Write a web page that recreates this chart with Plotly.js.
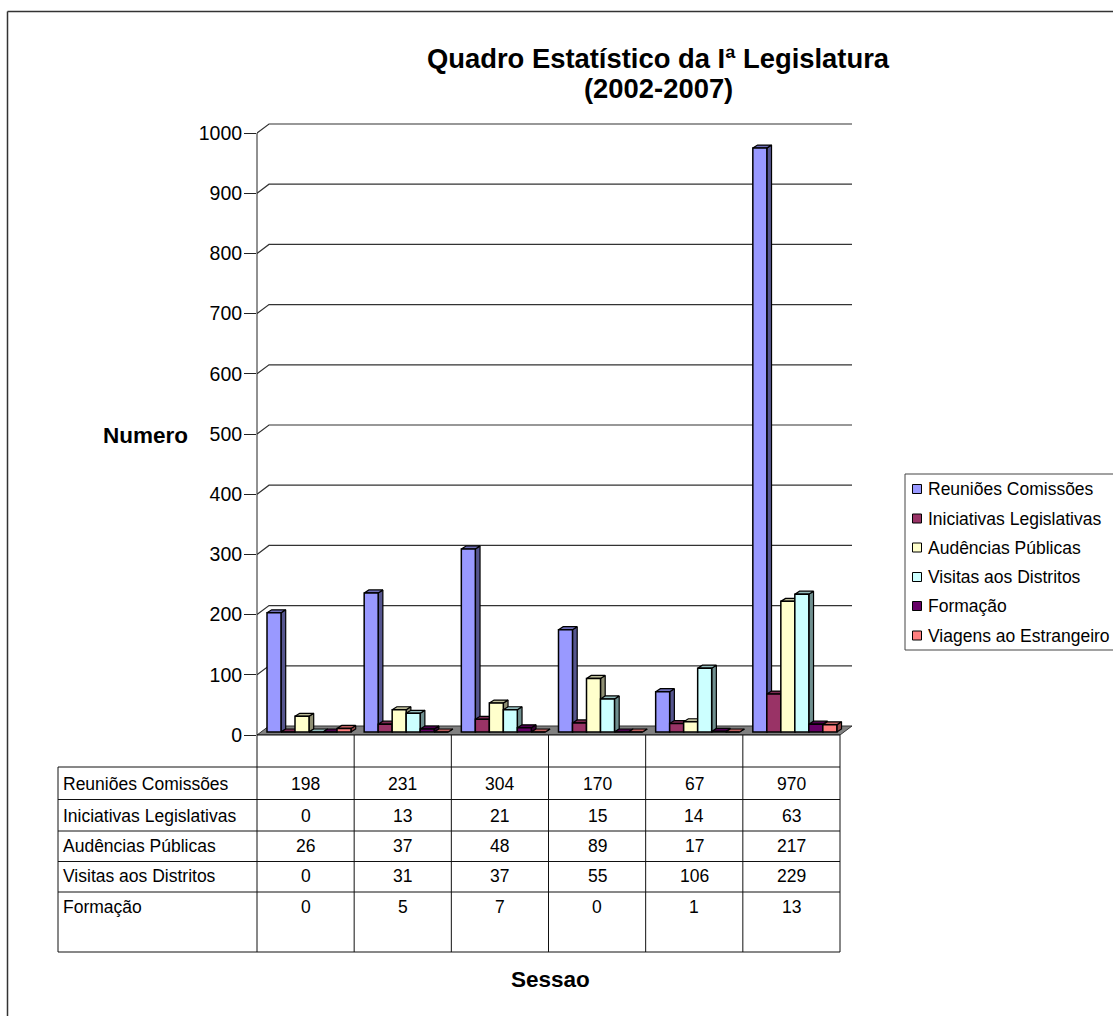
<!DOCTYPE html>
<html>
<head>
<meta charset="utf-8">
<script src="https://cdn.plot.ly/plotly-3.0.1.min.js"></script>
<style>html,body{margin:0;padding:0;background:#fff;overflow:hidden}</style>
</head>
<body>
<div id="chart" style="width:1113px;height:1016px"></div>
<script>
// ---- data ----
var titleLine1 = "Quadro Estatístico da Iª Legislatura";
var titleLine2 = "(2002-2007)";
var seriesNames = ["Reuniões Comissões","Iniciativas Legislativas","Audências Públicas","Visitas aos Distritos","Formação","Viagens ao Estrangeiro"];
var reunioes   = [198,231,304,170,67,970];
var iniciativas= [0,13,21,15,14,63];
var audiencias = [26,37,48,89,17,217];
var visitas    = [0,31,37,55,106,229];
var formacao   = [0,5,7,0,1,13];
var viagens    = [6,0,0,0,0,12];
var seriesValues = [reunioes,iniciativas,audiencias,visitas,formacao,viagens];
var frontColors = ["#9999FF","#993366","#FFFFCC","#CCFFFF","#660066","#FF8080"];
var sideColors  = ["#55558F","#5A1F3D","#8F8F73","#6F8F8F","#3A003A","#8F4848"];
var topColors   = ["#6E6EB8","#7A2950","#BDBD99","#94BDBD","#4D004D","#BD5F5F"];
var yTicks = [0,100,200,300,400,500,600,700,800,900,1000];

// ---- page geometry (pixels of the frame) ----
var W=1113,H=1016;
var L=257,R=840,B=735,T=133;
var PR=860,PT=117;                    // room kept for the depth of the walls
var px=(R-L)/6, py=(B-T)/1000;
var xMax=(PR-L)/px, yMax=(B-PT)/py;
var dxWall=12/px, dyWall=9/py;        // depth of walls
var dxBar=4.7/px, dyBar=3/py;         // depth of a bar
var barBase=3/py, barW=14/px, barLead=10/px;
function fx(p){return p/W;}
function fy(p){return 1-p/H;}

var traces=[];
// floor
traces.push({type:"scatter",mode:"lines",x:[0,6,6+dxWall,dxWall,0],y:[0,0,dyWall,dyWall,0],fill:"toself",fillcolor:"#808080",
  line:{color:"#333",width:1},hoverinfo:"skip",showlegend:false,xaxis:"x",yaxis:"y"});
// walls grid
var gx=[],gy=[];
yTicks.slice(1).forEach(function(v){gx.push(0,dxWall,6+dxWall,null);gy.push(v,v+dyWall,v+dyWall,null);});
traces.push({type:"scatter",mode:"lines",x:gx,y:gy,line:{color:"#333",width:1.2},hoverinfo:"skip",showlegend:false,xaxis:"x",yaxis:"y"});

// bar depth faces, from left to right
seriesValues.forEach(function(vals,s){
  var sx=[],sy=[],tx=[],ty=[];
  vals.forEach(function(v,g){
    var xl=g+barLead+barW*s, xr=xl+barW, top=barBase+v;
    sx.push(xr,xr+dxBar,xr+dxBar,xr,xr,null);
    sy.push(barBase,barBase+dyBar,top+dyBar,top,barBase,null);
    tx.push(xl,xl+dxBar,xr+dxBar,xr,xl,null);
    ty.push(top,top+dyBar,top+dyBar,top,top,null);
  });
  traces.push({type:"scatter",mode:"lines",x:sx,y:sy,fill:"toself",fillcolor:sideColors[s],line:{color:"#000",width:1.2},hoverinfo:"skip",showlegend:false,xaxis:"x",yaxis:"y"});
  traces.push({type:"scatter",mode:"lines",x:tx,y:ty,fill:"toself",fillcolor:topColors[s],line:{color:"#000",width:1.2},hoverinfo:"skip",showlegend:false,xaxis:"x",yaxis:"y"});
});
// bar fronts on an overlaying subplot
seriesValues.forEach(function(vals,s){
  traces.push({type:"bar",name:seriesNames[s],
    x:vals.map(function(v,g){return g+barLead+barW*(s+0.5);}),
    y:vals,base:barBase,width:barW,
    marker:{color:frontColors[s],line:{color:"#000",width:1.5}},
    showlegend:false,xaxis:"x2",yaxis:"y2"});
});

var shapes=[],annotations=[];
function line(x0,y0,x1,y1,c,w){shapes.push({type:"line",xref:"paper",yref:"paper",x0:fx(x0),y0:fy(y0),x1:fx(x1),y1:fy(y1),line:{color:c||"#000",width:w||1}});}
function text(t,x,y,size,anchor,bold){annotations.push({text:bold?"<b>"+t+"</b>":t,xref:"paper",yref:"paper",x:fx(x),y:fy(y),xanchor:anchor||"center",yanchor:"middle",showarrow:false,font:{family:"Liberation Sans",size:size,color:"#000"}});}

// outer frame (left and top only are in view)
line(7.5,11.5,7.5,H,"#333",1.5);
line(7.5,11.5,W,11.5,"#333",1.5);

// value axis line and floor front edge
line(L,T,L,B,"#222",1);
line(L,B,R,B,"#111",1);

// table
var tableTop=767, tableBottom=952, tableLeft=58;
var rowLines=[767,799.5,831,861.5,892,952];
var rowText=[784,816,846,876,907];
rowLines.forEach(function(y){line(tableLeft,y,R,y,"#111",1);});
line(tableLeft,tableTop,tableLeft,tableBottom,"#111",1);
for(var c=0;c<=6;c++){line(L+px*c,B,L+px*c,tableBottom,"#111",1);}
for(var s=0;s<5;s++){
  text(seriesNames[s],61,rowText[s],17.5,"left");
  seriesValues[s].forEach(function(v,g){text(String(v),L+px*(g+0.5),rowText[s],17.5,"center");});
}

// legend
var legTop=474,legBottom=650,legLeft=905,legRows=[489,518.5,547.5,577,606,635.5];
line(legLeft,legTop,W,legTop,"#444",1);
line(legLeft,legBottom,W,legBottom,"#444",1);
line(legLeft,legTop,legLeft,legBottom,"#444",1);
seriesNames.forEach(function(n,s){
  var y=legRows[s];
  shapes.push({type:"rect",xref:"paper",yref:"paper",x0:fx(912.5),x1:fx(921.5),y0:fy(y-4.5),y1:fy(y+4.5),fillcolor:frontColors[s],line:{color:"#000",width:1}});
  text(n,926,y,17.5,"left");
});

// axis titles and second title line
text("Numero",145.5,435,22.5,"center",true);
text("Sessao",550.5,979,22.5,"center",true);
text(titleLine2,658,89,27.4,"center",true);

var layout={
  width:W,height:H,margin:{l:0,r:0,t:0,b:0},paper_bgcolor:"#fff",plot_bgcolor:"rgba(0,0,0,0)",showlegend:false,
  title:{text:"<b>"+titleLine1+"</b>",x:658/W,xanchor:"center",y:1-58/H,yanchor:"middle",font:{family:"Liberation Sans",size:27.4,color:"#000"}},
  xaxis:{domain:[fx(L),fx(PR)],range:[0,xMax],visible:false,fixedrange:true},
  yaxis:{domain:[fy(B),fy(PT)],range:[0,yMax],tickvals:yTicks,showgrid:false,zeroline:false,showline:false,
    ticks:"outside",ticklen:12,tickcolor:"#222",tickwidth:1,ticklabelstandoff:-2,tickfont:{family:"Liberation Sans",size:19.5,color:"#000"},fixedrange:true},
  xaxis2:{domain:[fx(L),fx(PR)],range:[0,xMax],visible:false,overlaying:"x",anchor:"y2",fixedrange:true},
  yaxis2:{domain:[fy(B),fy(PT)],range:[0,yMax],visible:false,overlaying:"y",anchor:"x2",fixedrange:true},
  barmode:"overlay",shapes:shapes,annotations:annotations
};
Plotly.newPlot("chart",traces,layout,{displayModeBar:false,staticPlot:true});
</script>
</body>
</html>
